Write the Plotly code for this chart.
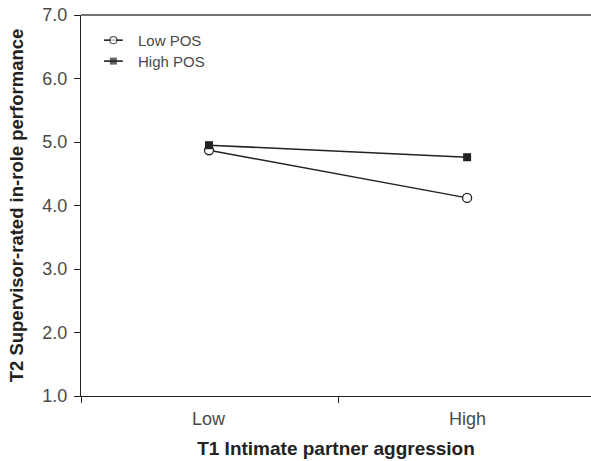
import plotly.graph_objects as go

categories = ["Low", "High"]
cat_pos = [1.0, 2.0]
low_pos = [4.87, 4.12]
high_pos = [4.95, 4.76]
series_names = ["Low POS", "High POS"]
y_ticks = [1.0, 2.0, 3.0, 4.0, 5.0, 6.0, 7.0]
y_tick_labels = ["1.0", "2.0", "3.0", "4.0", "5.0", "6.0", "7.0"]

FONT = "Liberation Sans, Arial, sans-serif"
INK = "#222222"
TXT = "#4a4a4a"

fig = go.Figure()
fig.add_trace(go.Scatter(
    x=cat_pos, y=low_pos, name=series_names[0], mode="lines+markers", showlegend=False,
    line=dict(color=INK, width=1.5),
    marker=dict(symbol="circle", size=9, color="white", line=dict(width=1.3, color=INK)),
))
fig.add_trace(go.Scatter(
    x=cat_pos, y=high_pos, name=series_names[1], mode="lines+markers", showlegend=False,
    line=dict(color=INK, width=1.5),
    marker=dict(symbol="square", size=8, color=INK),
))

for c, p in zip(categories, cat_pos):
    fig.add_annotation(x=p, y=0, xref="x", yref="paper", yshift=-11, yanchor="top",
                       text=c, showarrow=False, font=dict(family=FONT, size=18, color=TXT))

# custom legend with short line glyphs on an overlay axis spanning the plot area
leg_rows = [0.934, 0.879]
leg_styles = [
    dict(symbol="circle", size=[0, 7, 0], color="white", line=dict(width=1.2, color=INK)),
    dict(symbol="square", size=[0, 7, 0], color=INK, line=dict(width=0)),
]
for name, yy, mk in zip(series_names, leg_rows, leg_styles):
    fig.add_trace(go.Scatter(
        x=[0.045, 0.0635, 0.082], y=[yy, yy, yy], xaxis="x2", yaxis="y2", mode="lines+markers",
        line=dict(color=INK, width=1.6), marker=mk, showlegend=False, hoverinfo="skip",
        cliponaxis=False))
    fig.add_annotation(x=0.108, y=yy, xref="paper", yref="paper", xanchor="left", yanchor="middle",
                       text=name, showarrow=False, font=dict(family=FONT, size=15, color=TXT))

fig.update_layout(
    width=591, height=461,
    margin=dict(l=81, r=0, t=15, b=65),
    paper_bgcolor="white", plot_bgcolor="white",
    font=dict(family=FONT, color=TXT),
    showlegend=False,
    xaxis=dict(range=[0.504, 2.48], showgrid=False, zeroline=False,
               showline=True, linecolor=INK, linewidth=1.4,
               tickvals=[0.504, 1.5], ticktext=["", ""], ticks="outside",
               ticklen=6, tickcolor=INK, tickwidth=1.3,
               title=dict(text="<b>T1 Intimate partner aggression</b>",
                          font=dict(family=FONT, size=19, color="#222"), standoff=37),
               automargin=False),
    yaxis=dict(range=[1.0, 7.0], showgrid=False, zeroline=False,
               showline=True, linecolor=INK, linewidth=1.4,
               tickvals=y_ticks, ticktext=y_tick_labels, ticks="outside",
               ticklen=6, tickcolor=INK, tickwidth=1.3, ticklabelstandoff=3,
               tickfont=dict(family=FONT, size=18, color=TXT),
               title=dict(text="<b>T2 Supervisor-rated in-role performance</b>",
                          font=dict(family=FONT, size=18.5, color="#222"), standoff=13),
               automargin=False),
    xaxis2=dict(range=[0, 1], overlaying="x", visible=False, fixedrange=True),
    yaxis2=dict(range=[0, 1], overlaying="y", visible=False, fixedrange=True),
)
fig.add_shape(type="line", xref="paper", yref="paper", x0=0, x1=1, y0=1, y1=1,
              line=dict(color="#444", width=1.5))

fig.write_html("out.html")
